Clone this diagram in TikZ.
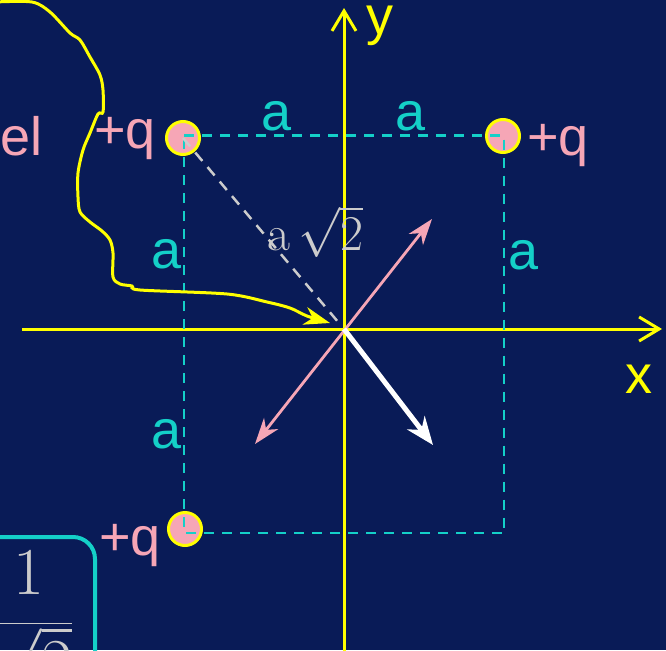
\RequirePackage{fix-cm}
\documentclass[tikz,border=0pt]{standalone}
\usepackage{fontspec}
\newfontfamily\arialf{Liberation Sans}
\usetikzlibrary{arrows.meta}
\definecolor{bg}{RGB}{9,27,87}
\definecolor{yel}{RGB}{255,255,0}
\definecolor{pnk}{RGB}{246,166,182}
\definecolor{cyn}{RGB}{20,208,200}
\definecolor{gry}{RGB}{204,204,204}
\tikzset{
  lbl/.style={font=\arialf\fontsize{54}{60}\selectfont, inner sep=0pt, anchor=base west},
  alab/.style={lbl, text=cyn},
  qlab/.style={lbl, text=pnk},
  axlab/.style={lbl, text=yel},
  charge/.style={circle, fill=pnk, draw=yel, line width=3pt, minimum size=33pt, inner sep=0pt},
  sqline/.style={draw=cyn, dash pattern=on 10pt off 8pt, line width=2.5pt},
  diag/.style={draw=gry, dash pattern=on 11pt off 8pt, line width=2.5pt},
  axis/.style={draw=yel, line width=3pt, -{Straight Barb[length=20pt,width=24pt]}},
  pinkarrow/.style={draw=pnk, line width=2.8pt, {Stealth[length=26pt,width=18pt,inset=8pt]}-{Stealth[length=26pt,width=18pt,inset=8pt]}},
  whitearrow/.style={draw=white, line width=5pt, -{Stealth[length=28pt,width=22pt,inset=9pt]}},
  curve/.style={draw=yel, line width=3pt, -{Stealth[length=26pt,width=18pt,inset=8pt]}},
  mathlab/.style={text=gry, inner sep=0pt}
}
\begin{document}
\begin{tikzpicture}[x=1pt,y=-1pt]
\useasboundingbox (0,0) rectangle (666,650);
\clip (0,0) rectangle (666,650);
\fill[bg] (0,0) rectangle (666,650);

% axes
\coordinate (xs) at (22,329);
\coordinate (xe) at (662,329);
\coordinate (ys) at (344,660);
\coordinate (ye) at (344,8);
\coordinate (o) at (344,329);
\draw[axis] (xs) -- (xe);
\draw[axis] (ys) -- (ye);
\node[axlab] (ylab) at (366,35) {y};
\node[axlab] (xlab) at (625,393) {x};

% charges
\node[charge] (q1) at (183,138) {};
\node[charge] (q2) at (503,136) {};
\node[charge] (q3) at (185,529) {};

% square
\coordinate (c1) at (184,135.5);
\coordinate (c2) at (504,135.5);
\coordinate (c3) at (184,533);
\coordinate (c4) at (504,533);
\draw[sqline] (c1) -- (c2) -- (c4) -- (c3) -- cycle;

% diagonal
\draw[diag, shorten >=4pt] (q1.center) -- (o);

% field arrows
\coordinate (pa) at (432,219);
\coordinate (pb) at (255,444);
\coordinate (wt) at (433,445);
\draw[pinkarrow] (pb) -- (pa);
\draw[whitearrow] (o) -- (wt);

% yellow freehand curve
\coordinate (ct) at (330,323);
\draw[curve] plot[smooth, tension=0.5] coordinates {
 (-5,2) (32,2) (50,12) (70,33) (80,40) (90,57) (100,75) (103,90) (103,112)
 (98,114) (90,133) (83,150) (78,173) (78,197) (80,212) (90,222) (102,231)
 (110,240) (113,253) (113,277) (120,284) (132,286) (140,290) (227,294)
 (267,302) (290,308) (307,316) (ct)};

% labels
\node[alab] (a1) at (261,130) {a};
\node[alab] (a2) at (395,130) {a};
\node[alab] (a3) at (151,268) {a};
\node[alab] (a4) at (508,269) {a};
\node[alab] (a5) at (151,448) {a};

\node[qlab] (l1) at (94,148) {+q};
\node[qlab] (l2) at (527,155) {+q};
\node[qlab] (l3) at (99,555) {+q};
\node[qlab] (el) at (0,155) {el};

\node[mathlab, anchor=base west, font=\fontsize{50}{56}\selectfont] (d) at (267,250) {$\mathrm{a}\,\sqrt{2}$};

% formula box
\draw[cyn, line width=4pt, rounded corners=22pt] (-30,537) -- (95,537) -- (95,690);
\node[mathlab, anchor=base, font=\fontsize{67}{72}\selectfont] (fr) at (29,640) {$\displaystyle\frac{1}{\sqrt{2}}$};
\end{tikzpicture}
\end{document}
